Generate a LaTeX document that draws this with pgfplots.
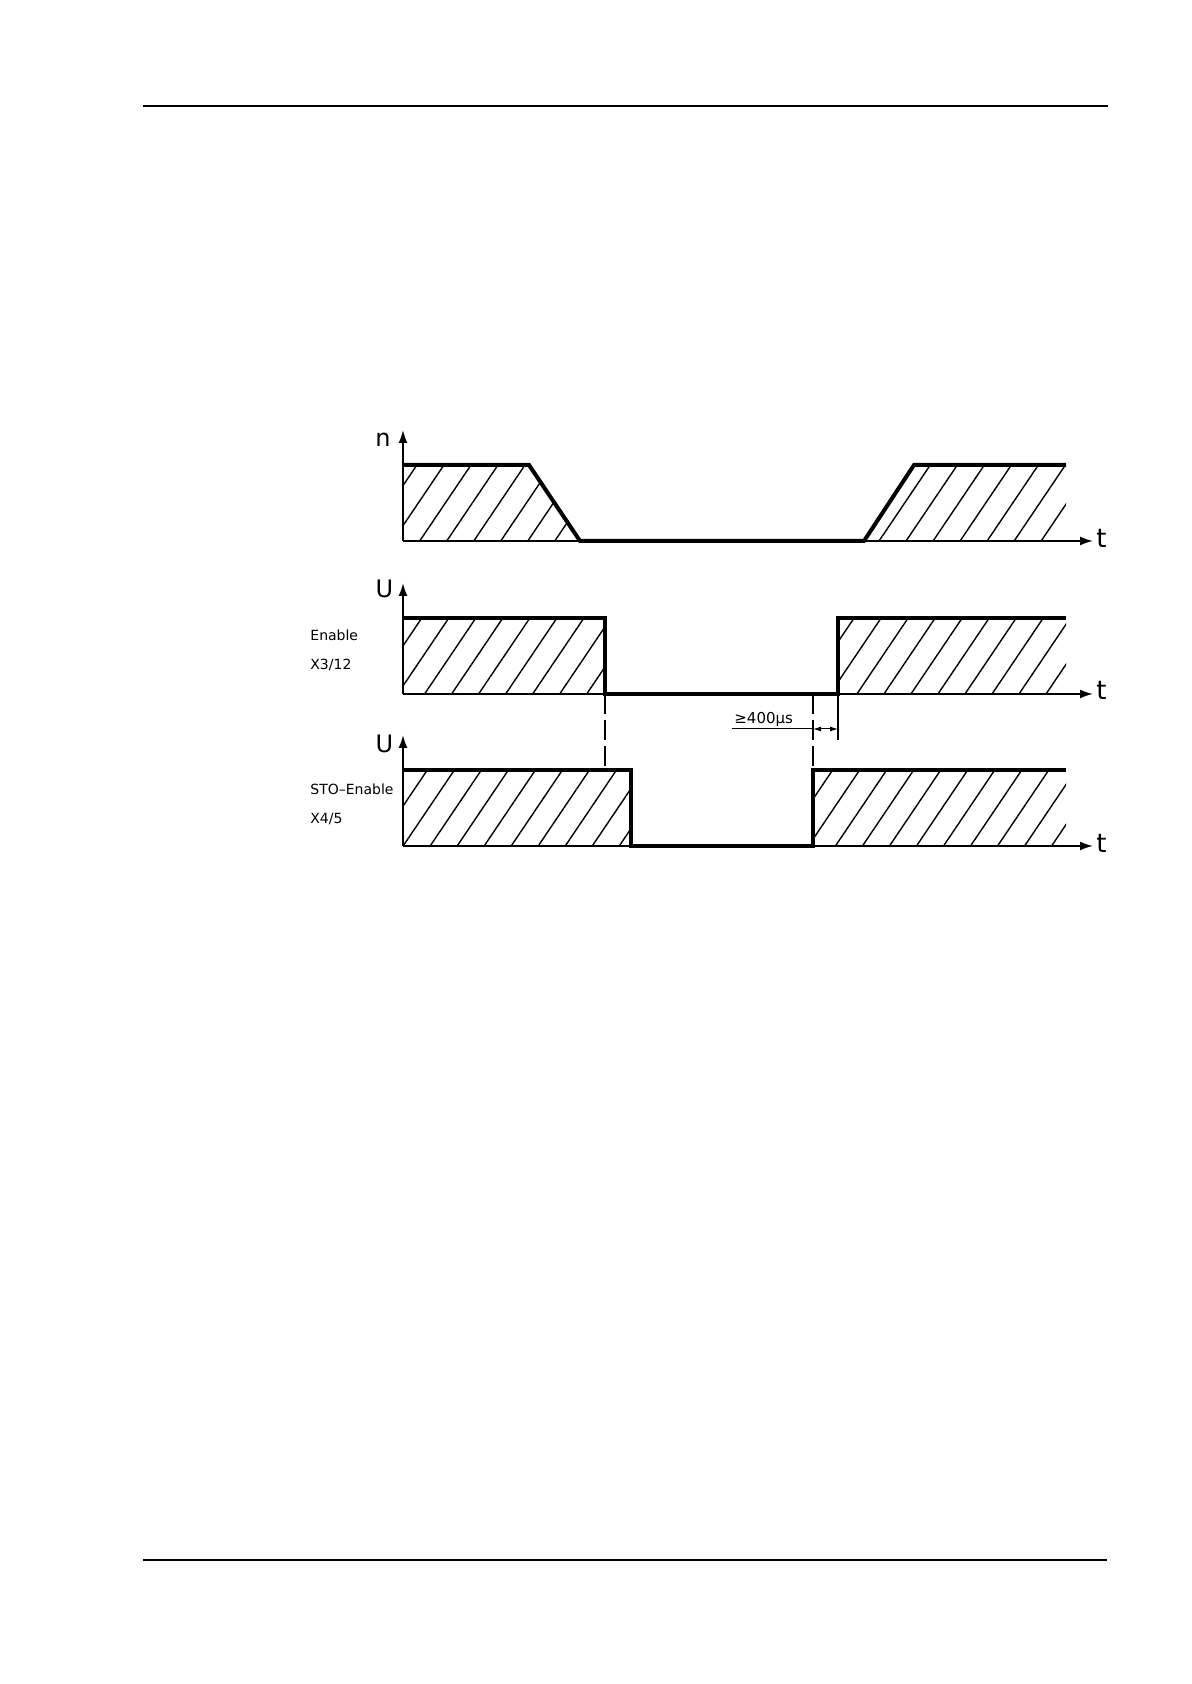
\documentclass[border=0pt]{standalone}
\usepackage{fontspec}
\setmainfont{DejaVu Sans}
\usepackage{pgfplots}
\pgfplotsset{compat=1.18}
\usetikzlibrary{arrows.meta,patterns.meta}

\pgfplotsset{
  timing/.style={scale only axis, width=345pt, height=55.5pt,
    xmin=0, xmax=690, ymin=0, ymax=111,
    axis lines=left,
    axis line style={line width=0.9pt, -{Latex[length=6.5pt,width=4.5pt]}},
    ticks=none, clip=false, anchor=south west},
  hatch/.style={draw=none, pattern={Lines[angle=56,distance=11.2pt,line width=0.7pt]}},
  sig/.style={line width=2pt, black, mark=none},
}

\begin{document}
\begin{tikzpicture}[x=1pt,y=1pt]
\path (0pt,0pt) rectangle (595.5pt,842pt);
\draw[line width=1pt] (71.5pt,788.75pt) -- (554pt,788.75pt);
\draw[line width=1pt] (71.5pt,62pt) -- (553.5pt,62pt);

% panel 1: speed n
\begin{axis}[timing, at={(201.5pt,571.5pt)}]
\addplot[hatch] coordinates {(0,0)(0,76)(126,76)(177,0)(461,0)(511,76)(663,76)(663,0)} \closedcycle;
\addplot[sig] coordinates {(0,76)(126,76)(177,0)(461,0)(511,76)(663,76)};
\end{axis}

% panel 2: Enable
\begin{axis}[timing, at={(201.5pt,495pt)}]
\addplot[hatch] coordinates {(0,0)(0,76)(202,76)(202,0)(435,0)(435,76)(663,76)(663,0)} \closedcycle;
\addplot[sig] coordinates {(0,76)(202,76)(202,0)(435,0)(435,76)(663,76)};
\draw[line width=0.7pt, dash pattern=on 10pt off 3pt] (axis cs:202,0) -- (axis cs:202,-76);
\draw[line width=0.7pt, dash pattern=on 10pt off 3pt] (axis cs:410,0) -- (axis cs:410,-76);
\draw[line width=0.8pt] (axis cs:435,0) -- (axis cs:435,-46);
\draw[line width=0.5pt] (axis cs:329,-35) -- (axis cs:410,-35);
\draw[line width=0.5pt, {Latex[length=4pt,width=2.5pt]}-{Latex[length=4pt,width=2.5pt]}] (axis cs:410,-35) -- (axis cs:435,-35);
\end{axis}

% panel 3: STO-Enable
\begin{axis}[timing, at={(201.5pt,419pt)}]
\addplot[hatch] coordinates {(0,0)(0,76)(228,76)(228,0)(410,0)(410,76)(663,76)(663,0)} \closedcycle;
\addplot[sig] coordinates {(0,76)(228,76)(228,0)(410,0)(410,76)(663,76)};
\end{axis}

% axis letters
\node[font=\fontsize{12}{12}\selectfont, inner sep=0pt] at (191.5pt,622.25pt) {n};
\node[font=\fontsize{12}{12}\selectfont, inner sep=0pt] at (192.25pt,547.5pt) {U};
\node[font=\fontsize{12}{12}\selectfont, inner sep=0pt] at (192.25pt,470.25pt) {U};
\node[font=\fontsize{13}{13}\selectfont, inner sep=0pt] at (550.75pt,573pt) {t};
\node[font=\fontsize{13}{13}\selectfont, inner sep=0pt] at (550.75pt,497pt) {t};
\node[font=\fontsize{13}{13}\selectfont, inner sep=0pt] at (550.75pt,420.5pt) {t};

% signal labels
\node[font=\fontsize{7}{8}\selectfont, anchor=west, inner sep=0pt] at (155pt,524.5pt) {Enable};
\node[font=\fontsize{7}{8}\selectfont, anchor=west, inner sep=0pt] at (155pt,509.5pt) {X3/12};
\node[font=\fontsize{7}{8}\selectfont, anchor=west, inner sep=0pt] at (155pt,447.5pt) {STO–Enable};
\node[font=\fontsize{7}{8}\selectfont, anchor=west, inner sep=0pt] at (155pt,432.5pt) {X4/5};
\node[font=\fontsize{7.5}{8}\selectfont, anchor=base west, inner sep=0pt] at (367pt,480pt) {≥400µs};
\end{tikzpicture}
\end{document}
